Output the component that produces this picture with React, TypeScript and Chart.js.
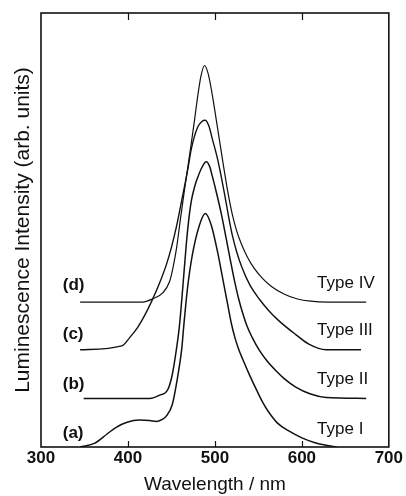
import React, { useEffect, useRef } from "react";
import { Chart, registerables } from "chart.js";

Chart.register(...registerables);

// Wavelength (nm) and intensity (arb. units, offset) for each spectrum
const waveA = [345, 362, 376, 387, 399, 413, 425, 433, 440, 444, 451, 457, 462, 464, 468.5, 474, 482, 489, 496, 503, 509, 515, 519, 523, 527, 532, 540, 548, 555, 562, 572, 585, 600, 615, 628, 640];
const intA = [0, 0.9, 3.0, 4.6, 5.7, 6.2, 6.1, 5.9, 6.4, 7.1, 9.8, 16.0, 22.9, 27.5, 36.6, 44.2, 51.0, 53.8, 51.0, 45.0, 38.8, 32.5, 28.4, 25.2, 22.7, 20.2, 16.5, 13.1, 10.3, 8.0, 5.5, 3.7, 2.1, 1.0, 0.4, 0];

const waveB = [349, 425, 436, 446, 451, 456, 459, 463, 467, 470, 473, 477, 480, 485, 490, 494, 497, 502, 507.5, 513, 518, 522, 527, 532, 537, 543, 551, 560, 570.5, 580, 593, 610, 628, 674];
const intB = [11.2, 11.2, 11.9, 13.3, 16.7, 22.9, 27.5, 36.6, 46.5, 52.5, 56.8, 60.2, 62.0, 64.4, 65.7, 64.6, 62.4, 58.4, 53.6, 48.0, 42.8, 38.8, 34.4, 30.8, 27.8, 25.2, 22.3, 19.8, 17.5, 15.7, 13.8, 12.2, 11.4, 11.2];

const waveC = [345, 393, 402, 411, 420, 428, 436, 444, 450, 456, 462, 468.5, 473, 480, 485, 489, 493, 497, 503, 507, 511, 516, 520, 525, 531, 540, 551, 562, 574, 593, 608, 628, 668];
const intC = [22.4, 23.3, 25.2, 27.5, 30.6, 33.9, 37.6, 41.9, 46.0, 51.0, 57.0, 63.6, 68.8, 73.6, 75.0, 75.3, 74.0, 71.0, 66.4, 62.6, 58.4, 52.8, 48.8, 45.0, 41.4, 37.4, 34.1, 31.4, 29.0, 25.9, 23.7, 22.4, 22.4];

const waveD = [345, 417, 428, 440, 448, 452, 456, 460, 464, 468, 472, 476, 480, 484, 488, 492, 496, 500, 505, 510, 515, 520, 525, 530, 537, 545, 555, 565, 580, 595, 610, 630, 674];
const intD = [33.4, 33.4, 34.1, 35.5, 38.2, 41.5, 46.0, 52.0, 57.8, 63.3, 68.8, 74.5, 80.5, 85.5, 87.9, 86.2, 82.3, 77.4, 71.0, 64.6, 58.6, 53.6, 49.8, 47.0, 43.9, 41.2, 38.8, 37.0, 35.2, 34.1, 33.6, 33.4, 33.4];

// Curve letters (left) and type names (right), anchored in data units
const letterLabels = ["(a)", "(b)", "(c)", "(d)"];
const letterWave = [325, 325, 325, 325];
const letterInt = [3.2, 14.4, 25.9, 37.3];

const typeLabels = ["Type I", "Type II", "Type III", "Type IV"];
const typeWave = [617.5, 617.5, 617.5, 617.5];
const typeInt = [4.1, 15.6, 27.0, 37.8];

const xTicks = [300, 400, 500, 600, 700];

const FONT = "'Liberation Sans', Arial, Helvetica, sans-serif";

const toPoints = (xs: number[], ys: number[]) => xs.map((x, i) => ({ x, y: ys[i] }));

const framePlugin = {
  id: "frame",
  afterDraw(chart: any) {
    const { ctx, chartArea, scales } = chart;
    const xs = scales.x;
    const ys = scales.y;
    ctx.save();
    ctx.strokeStyle = "#111";
    ctx.lineWidth = 1.6;
    ctx.strokeRect(chartArea.left, chartArea.top, chartArea.right - chartArea.left, chartArea.bottom - chartArea.top);
    // inward tick marks top and bottom
    ctx.lineWidth = 1.2;
    xTicks.slice(1, -1).forEach((t) => {
      const px = Math.round(xs.getPixelForValue(t)) + 0.5;
      ctx.beginPath();
      ctx.moveTo(px, chartArea.top);
      ctx.lineTo(px, chartArea.top + 7);
      ctx.moveTo(px, chartArea.bottom);
      ctx.lineTo(px, chartArea.bottom - 6);
      ctx.stroke();
    });
    ctx.fillStyle = "#111";
    ctx.textBaseline = "middle";
    ctx.textAlign = "left";
    ctx.font = `bold 17px ${FONT}`;
    letterLabels.forEach((l, i) => {
      ctx.fillText(l, xs.getPixelForValue(letterWave[i]), ys.getPixelForValue(letterInt[i]));
    });
    ctx.font = `17px ${FONT}`;
    typeLabels.forEach((l, i) => {
      ctx.fillText(l, xs.getPixelForValue(typeWave[i]), ys.getPixelForValue(typeInt[i]));
    });
    ctx.restore();
  },
};

export default function App() {
  const ref = useRef<HTMLCanvasElement>(null);
  useEffect(() => {
    if (!ref.current) return;
    const mk = (xs: number[], ys: number[], w: number) => ({
      data: toPoints(xs, ys),
      borderColor: "#111",
      borderWidth: w,
      pointRadius: 0,
      fill: false,
      cubicInterpolationMode: "monotone" as const,
    });
    const chart = new Chart(ref.current, {
      type: "line",
      data: {
        datasets: [mk(waveA, intA, 1.5), mk(waveB, intB, 1.5), mk(waveC, intC, 1.4), mk(waveD, intD, 1.2)],
      },
      options: {
        responsive: false,
        animation: false,
        layout: { padding: { left: 10, right: 0, top: 13, bottom: 1.5 } },
        plugins: { legend: { display: false }, tooltip: { enabled: false } },
        scales: {
          x: {
            type: "linear",
            min: 300,
            max: 700,
            afterBuildTicks: (s: any) => {
              s.ticks = xTicks.map((v) => ({ value: v }));
            },
            ticks: {
              color: "#111",
              font: { family: FONT, size: 17, weight: "bold", lineHeight: 1 },
              padding: 3,
              maxRotation: 0,
            },
            grid: { display: false, drawTicks: false },
            border: { display: false },
            title: {
              display: true,
              text: "Wavelength / nm",
              color: "#111",
              font: { family: FONT, size: 19, lineHeight: 1 },
              padding: { top: 5.5, bottom: 0 },
            },
          },
          y: {
            type: "linear",
            min: 0,
            max: 100,
            ticks: { display: false },
            grid: { display: false, drawTicks: false },
            border: { display: false },
            title: {
              display: true,
              text: "Luminescence Intensity (arb. units)",
              color: "#111",
              font: { family: FONT, size: 21, lineHeight: 1 },
              padding: { top: 3, bottom: 7 },
            },
          },
        },
      },
      plugins: [framePlugin],
    });
    return () => chart.destroy();
  }, []);
  return (
    <canvas
      ref={ref}
      width={406}
      height={496}
      style={{ position: "absolute", left: 0, top: 0, background: "#fff" }}
    />
  );
}
